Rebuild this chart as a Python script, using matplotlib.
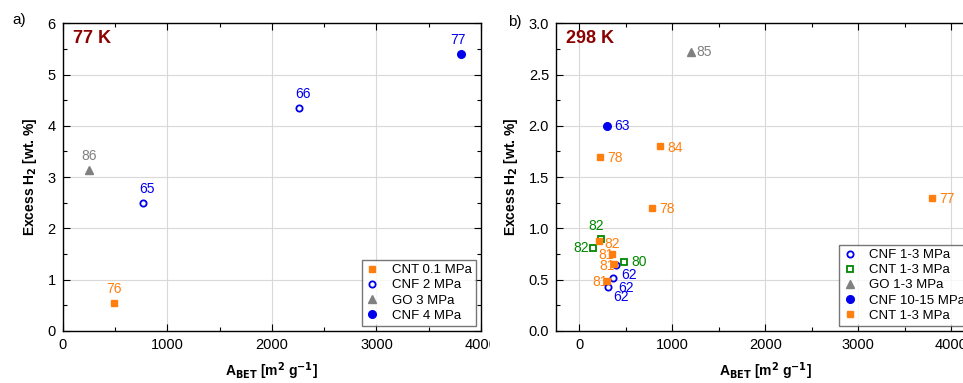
import matplotlib.pyplot as plt
from matplotlib.patches import Rectangle
from matplotlib.ticker import MultipleLocator

plt.rcParams['font.family'] = ['Liberation Sans', 'DejaVu Sans']

orange = "#ff7f0e"
blue = "#0000ee"
green = "#008800"
gray = "#808080"
darkred = "#8b0000"

# a) 77 K
cnt01_x = [490]
cnt01_y = [0.55]
cnt01_lab = ["76"]
cnf2_x = [771, 2261]
cnf2_y = [2.5, 4.35]
cnf2_lab = ["65", "66"]
go3_x = [249]
go3_y = [3.14]
go3_lab = ["86"]
cnf4_x = [3805]
cnf4_y = [5.4]
cnf4_lab = ["77"]

# b) 298 K
cnf13_x = [395, 359, 305]
cnf13_y = [0.643, 0.514, 0.426]
cnf13_lab = ["62", "62", "62"]
cntg_x = [237, 147, 481]
cntg_y = [0.9, 0.806, 0.675]
cntg_lab = ["82", "82", "80"]
go13_x = [1204]
go13_y = [2.72]
go13_lab = ["85"]
cnf1015_x = [298]
cnf1015_y = [2.0]
cnf1015_lab = ["63"]
cnto_x = [226, 871, 782, 3796, 208, 352, 369, 294]
cnto_y = [1.7, 1.8, 1.2, 1.3, 0.874, 0.753, 0.65, 0.487]
cnto_lab = ["78", "84", "78", "77", "82", "81", "81", "81"]

fig = plt.figure(figsize=(9.63, 3.83), dpi=100)
ax1 = fig.add_axes([0.0651, 0.1358, 0.4344, 0.8034])
ax2 = fig.add_axes([0.5774, 0.1358, 0.4346, 0.8034])
ax2.set_zorder(1)

# white strip hiding the cut-off part of panel a
fig.patches.append(Rectangle((490 / 963, 0), 1, 1, transform=fig.transFigure,
                             color="white", zorder=0.5))


def style(ax, xlim, ylim, ymaj, ymin):
    ax.set_xlim(*xlim)
    ax.set_ylim(*ylim)
    ax.xaxis.set_major_locator(MultipleLocator(1000))
    ax.xaxis.set_minor_locator(MultipleLocator(500))
    ax.yaxis.set_major_locator(MultipleLocator(ymaj))
    ax.yaxis.set_minor_locator(MultipleLocator(ymin))
    ax.tick_params(which="both", direction="in", top=True, right=True,
                   labelsize=10.5, colors="black", width=0.8)
    ax.tick_params(which="major", length=5, pad=5)
    ax.tick_params(which="minor", length=3)
    ax.grid(True, which="major", color="#d9d9d9", lw=0.8)
    ax.set_axisbelow(True)
    for s in ax.spines.values():
        s.set_linewidth(1.0)
    ax.set_xlabel(r"A$_\mathbf{BET}$ [m$^\mathbf{2}$ g$^\mathbf{-1}$]",
                  fontsize=10, fontweight="bold", labelpad=6)
    ax.set_ylabel(r"Excess H$_\mathbf{2}$ [wt. %]", fontsize=10,
                  fontweight="bold", labelpad=6)


def annotate(ax, xs, ys, labs, color, dx, dy, ha="center", va="center"):
    for x, y, t in zip(xs, ys, labs):
        ax.annotate(t, (x, y), xytext=(dx, dy), textcoords="offset points",
                    color=color, fontsize=10, ha=ha, va=va, zorder=1)


def legend(ax):
    leg = ax.legend(loc="lower right", fontsize=9.5, frameon=True, fancybox=False,
                    edgecolor="#555555", borderaxespad=0.4, handlelength=1.0,
                    handletextpad=1.0, labelspacing=0.22, borderpad=0.3)
    leg.get_frame().set_linewidth(1.0)


# panel a
ax1.plot(cnt01_x, cnt01_y, "s", color=orange, ms=5, ls="none", label="CNT 0.1 MPa")
ax1.plot(cnf2_x, cnf2_y, "o", mfc="none", mec=blue, mew=1.3, ms=4.5, ls="none", label="CNF 2 MPa")
ax1.plot(go3_x, go3_y, "^", color=gray, ms=6, ls="none", label="GO 3 MPa")
ax1.plot(cnf4_x, cnf4_y, "o", color=blue, ms=5.5, ls="none", label="CNF 4 MPa")
annotate(ax1, cnt01_x, cnt01_y, cnt01_lab, orange, 0, 10)
annotate(ax1, cnf2_x, cnf2_y, cnf2_lab, blue, 3, 10)
annotate(ax1, go3_x, go3_y, go3_lab, gray, 0, 10)
annotate(ax1, cnf4_x, cnf4_y, cnf4_lab, blue, -2, 10)
style(ax1, (0, 4000), (0, 6), 1, 0.5)
ax1.text(0.025, 0.95, "77 K", transform=ax1.transAxes, color=darkred,
         fontsize=13, fontweight="bold", va="center")
legend(ax1)
fig.text(12 / 963, 1 - 20 / 383, "a)", fontsize=11, va="center")

# panel b
ax2.plot(cnf13_x, cnf13_y, "o", mfc="none", mec=blue, mew=1.3, ms=4.5, ls="none", label="CNF 1-3 MPa", zorder=3)
ax2.plot(cntg_x, cntg_y, "s", mfc="none", mec=green, mew=1.3, ms=4.5, ls="none", label="CNT 1-3 MPa", zorder=3)
ax2.plot(go13_x, go13_y, "^", color=gray, ms=6, ls="none", label="GO 1-3 MPa", zorder=3)
ax2.plot(cnf1015_x, cnf1015_y, "o", color=blue, ms=5.5, ls="none", label="CNF 10-15 MPa", zorder=3)
ax2.plot(cnto_x, cnto_y, "s", color=orange, ms=5, ls="none", label="CNT 1-3 MPa", zorder=3)

annotate(ax2, go13_x, go13_y, go13_lab, gray, 4, 0, ha="left")
annotate(ax2, cnf1015_x, cnf1015_y, cnf1015_lab, blue, 5, 0, ha="left")
annotate(ax2, cnto_x[:4], cnto_y[:4], cnto_lab[:4], orange, 5, -1, ha="left")
annotate(ax2, cnto_x[4:5], cnto_y[4:5], cnto_lab[4:5], orange, 4, -2, ha="left")
annotate(ax2, cnto_x[5:], cnto_y[5:], cnto_lab[5:], orange, 1, -1, ha="right")
annotate(ax2, cntg_x[:1], cntg_y[:1], cntg_lab[:1], green, -4, 9)
annotate(ax2, cntg_x[1:2], cntg_y[1:2], cntg_lab[1:2], green, -3, 0, ha="right")
annotate(ax2, cntg_x[2:], cntg_y[2:], cntg_lab[2:], green, 5, 0, ha="left")
annotate(ax2, cnf13_x, cnf13_y, cnf13_lab, blue, 4, -7, ha="left")

style(ax2, (-250, 4250), (0, 3.0), 0.5, 0.25)
ax2.yaxis.set_major_formatter(plt.FormatStrFormatter("%.1f"))
ax2.text(0.025, 0.95, "298 K", transform=ax2.transAxes, color=darkred,
         fontsize=13, fontweight="bold", va="center")
legend(ax2)
fig.text(508 / 963, 1 - 22 / 383, "b)", fontsize=11, va="center")

fig.savefig("out.png", dpi=100)
